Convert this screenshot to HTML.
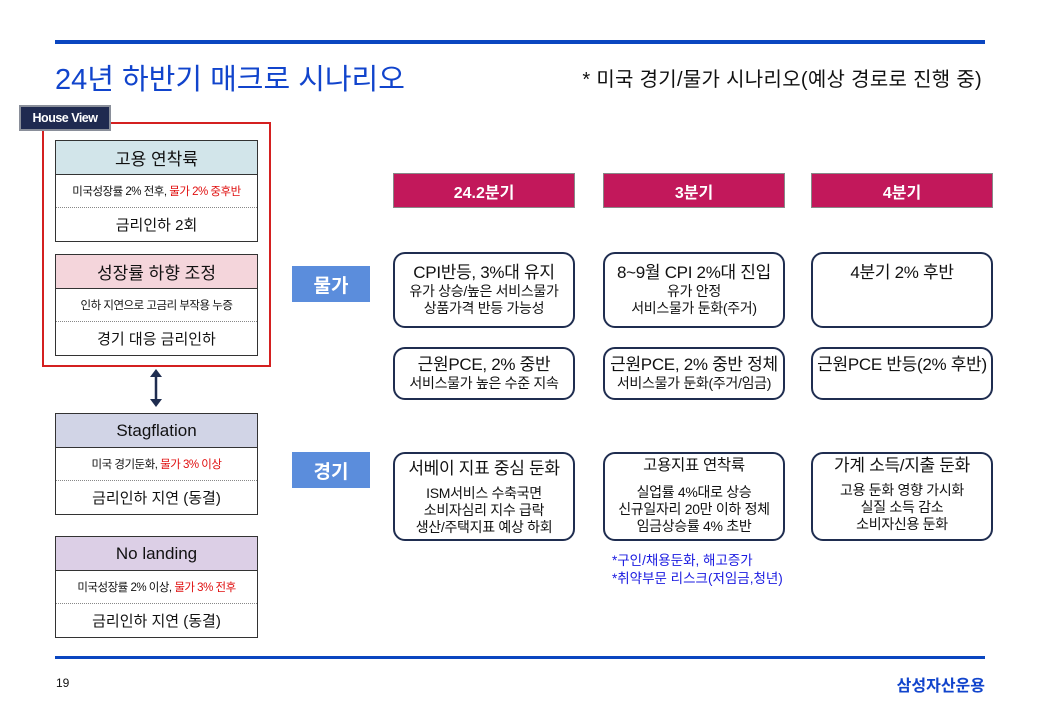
<!DOCTYPE html>
<html><head><meta charset="utf-8"><style>
*{margin:0;padding:0;box-sizing:border-box}
body{width:1040px;height:720px;background:#fff;position:relative;overflow:hidden;font-family:"Liberation Sans","Noto Sans CJK KR",sans-serif;color:#111}
.a{position:absolute}
.c{display:flex;align-items:center;justify-content:center;text-align:center}
.tbl{position:absolute;left:55px;width:203px;height:102px;border:1.5px solid #333;background:#fff}
.tbl .h{height:34px;border-bottom:1.5px solid #333;font-size:17px;display:flex;align-items:center;justify-content:center}
.tbl .r1{height:33px;border-bottom:1px dotted #888;font-size:11.5px;display:flex;align-items:center;justify-content:center;letter-spacing:-0.5px}
.tbl .r2{height:32px;font-size:15px;display:flex;align-items:center;justify-content:center}
.red{color:#e01010}
.q{position:absolute;top:173px;height:35px;width:182px;background:#c2185b;border:1.5px solid #888;color:#fff;font-size:16px;display:flex;align-items:center;justify-content:center;font-weight:bold}
.b{position:absolute;width:182px;border:2px solid #1f2d50;border-radius:12px;text-align:center;font-size:14px;line-height:17px;letter-spacing:-0.3px}
.b .t{font-size:17px;line-height:20px}
.lab{position:absolute;left:292px;width:78px;height:36px;background:#5b8ddc;color:#fff;font-size:19px;font-weight:bold;display:flex;align-items:center;justify-content:center}
</style></head><body>
<div class="a" style="left:55px;top:40px;width:930px;height:4px;background:#0a46c0"></div>
<div class="a" style="left:55px;top:56px;font-size:29px;color:#1144cc;letter-spacing:0px">24년 하반기 매크로 시나리오</div>
<div class="a" style="right:58px;top:63px;font-size:20px;color:#111;letter-spacing:0.3px">* 미국 경기/물가 시나리오(예상 경로로 진행 중)</div>

<div class="a" style="left:42px;top:122px;width:229px;height:245px;border:2px solid #d42020"></div>
<div class="a c" style="left:19px;top:105px;width:92px;height:26px;background:#1f2a50;border:2px solid #8a8f9a;color:#fff;font-size:12.5px;font-weight:bold;letter-spacing:-0.5px">House View</div>

<div class="tbl" style="top:140px"><div class="h" style="background:#d2e5ea">고용 연착륙</div><div class="r1">미국성장률 2% 전후,&nbsp;<span class="red">물가 2% 중후반</span></div><div class="r2">금리인하 2회</div></div>
<div class="tbl" style="top:254px"><div class="h" style="background:#f4d5db">성장률 하향 조정</div><div class="r1">인하 지연으로 고금리 부작용 누증</div><div class="r2">경기 대응 금리인하</div></div>

<svg class="a" style="left:148px;top:368px" width="16" height="40"><line x1="8" y1="6" x2="8" y2="34" stroke="#1f2d50" stroke-width="2.5"/><polygon points="2,9 8,1 14,9" fill="#1f2d50"/><polygon points="2,31 8,39 14,31" fill="#1f2d50"/></svg>

<div class="tbl" style="top:413px"><div class="h" style="background:#d1d4e6">Stagflation</div><div class="r1">미국 경기둔화,&nbsp;<span class="red">물가 3% 이상</span></div><div class="r2">금리인하 지연 (동결)</div></div>
<div class="tbl" style="top:536px"><div class="h" style="background:#dccfe6">No landing</div><div class="r1">미국성장률 2% 이상,&nbsp;<span class="red">물가 3% 전후</span></div><div class="r2">금리인하 지연 (동결)</div></div>

<div class="q" style="left:393px">24.2분기</div>
<div class="q" style="left:603px">3분기</div>
<div class="q" style="left:811px">4분기</div>

<div class="lab" style="top:266px">물가</div>
<div class="lab" style="top:452px">경기</div>

<div class="b" style="left:393px;top:252px;height:76px;padding-top:9px"><div class="t">CPI반등, 3%대 유지</div>유가 상승/높은 서비스물가<br>상품가격 반등 가능성</div>
<div class="b" style="left:603px;top:252px;height:76px;padding-top:9px"><div class="t">8~9월 CPI 2%대 진입</div>유가 안정<br>서비스물가 둔화(주거)</div>
<div class="b" style="left:811px;top:252px;height:76px;padding-top:9px"><div class="t">4분기 2% 후반</div></div>

<div class="b" style="left:393px;top:347px;height:53px;padding-top:6px"><div class="t">근원PCE, 2% 중반</div>서비스물가 높은 수준 지속</div>
<div class="b" style="left:603px;top:347px;height:53px;padding-top:6px"><div class="t">근원PCE, 2% 중반 정체</div>서비스물가 둔화(주거/임금)</div>
<div class="b" style="left:811px;top:347px;height:53px;padding-top:6px"><div class="t">근원PCE 반등(2% 후반)</div></div>

<div class="b" style="left:393px;top:452px;height:89px;padding-top:5px"><div class="t" style="margin-bottom:6px">서베이 지표 중심 둔화</div>ISM서비스 수축국면<br>소비자심리 지수 급락<br>생산/주택지표 예상 하회</div>
<div class="b" style="left:603px;top:452px;height:89px;padding-top:2px"><div class="t" style="margin-bottom:8px;font-size:15.5px">고용지표 연착륙</div>실업률 4%대로 상승<br>신규일자리 20만 이하 정체<br>임금상승률 4% 초반</div>
<div class="b" style="left:811px;top:452px;height:89px;padding-top:2px"><div class="t" style="margin-bottom:6px">가계 소득/지출 둔화</div>고용 둔화 영향 가시화<br>실질 소득 감소<br>소비자신용 둔화</div>

<div class="a" style="left:612px;top:552px;font-size:13.5px;line-height:18px;color:#1a1ae0">*구인/채용둔화, 해고증가<br>*취약부문 리스크(저임금,청년)</div>

<div class="a" style="left:55px;top:656px;width:930px;height:3px;background:#0a46c0"></div>
<div class="a" style="left:56px;top:676px;font-size:12px">19</div>
<div class="a" style="right:55px;top:672px;font-size:16px;font-weight:bold;color:#1144cc">삼성자산운용</div>
</body></html>
